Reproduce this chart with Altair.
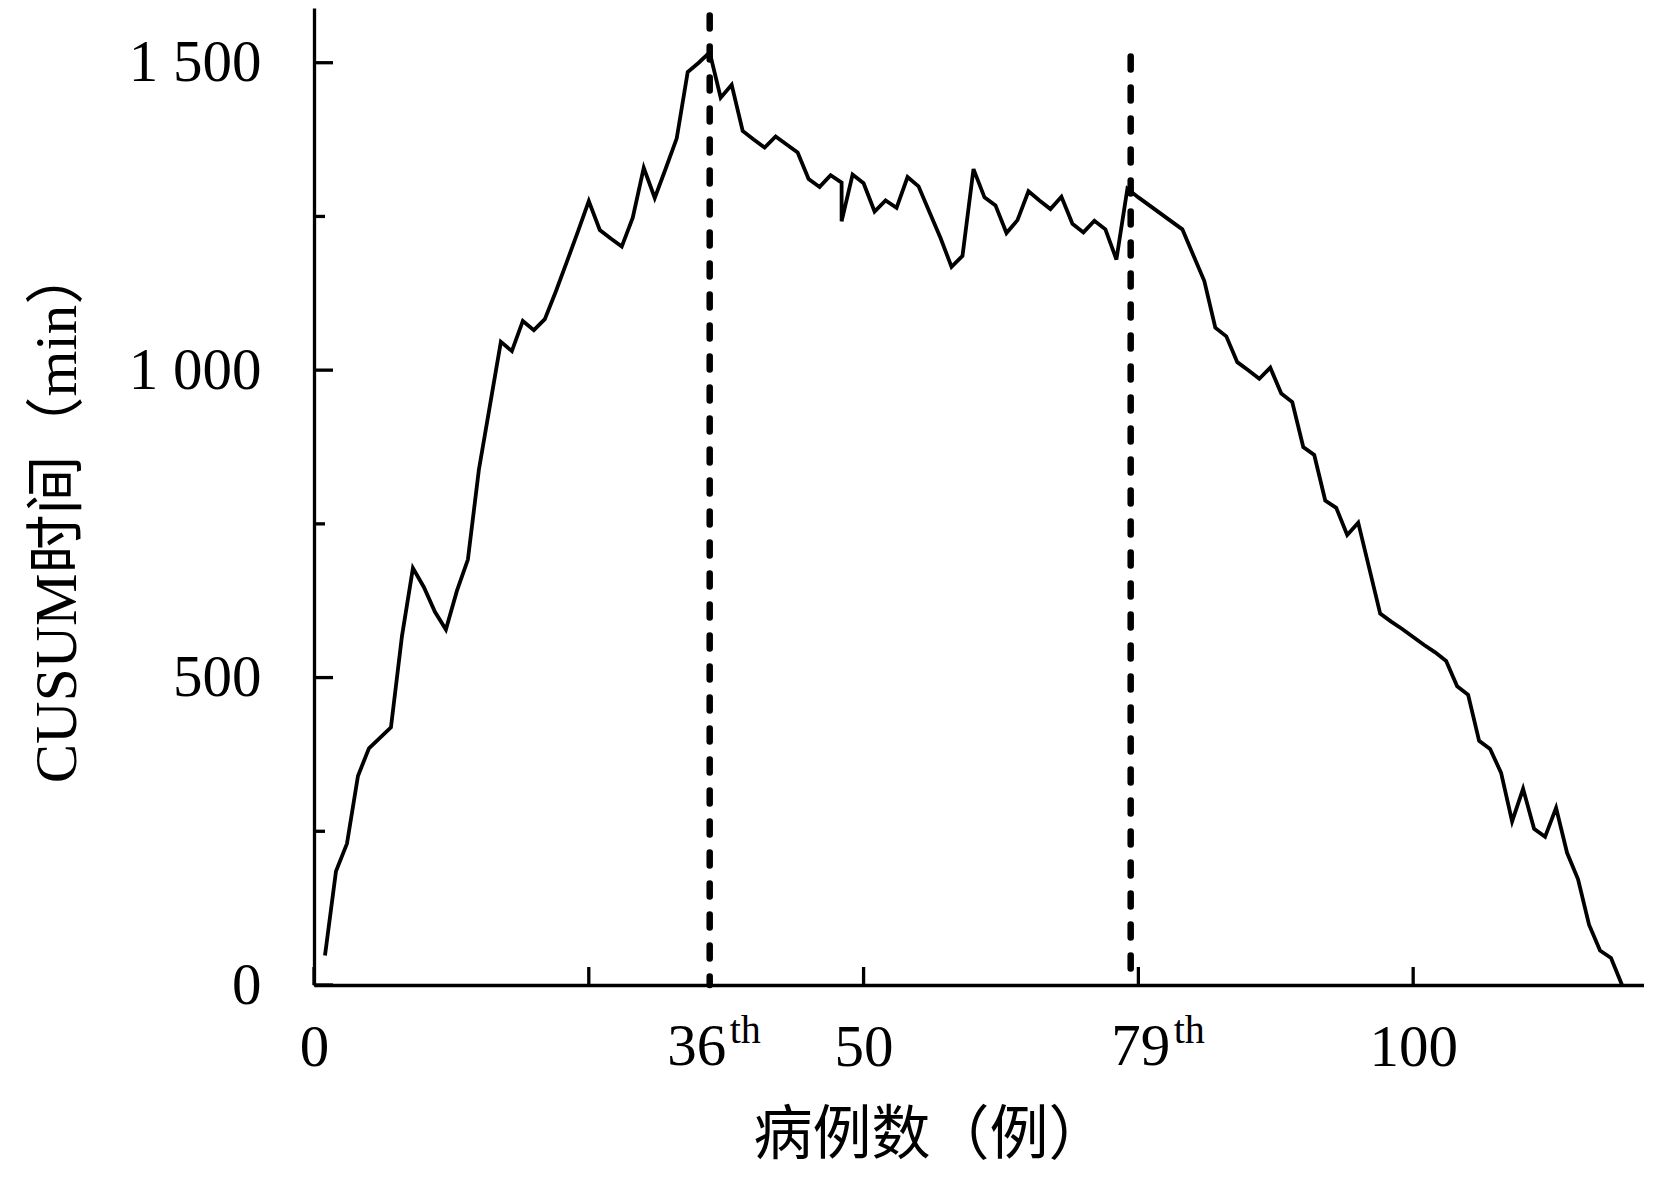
import altair as alt
import pandas as pd

# ---- data ----
case_no = [1, 2, 3, 4, 5, 6, 7, 8, 9, 10,
           11, 12, 13, 14, 15, 16, 17, 18, 19, 20,
           21, 22, 23, 24, 25, 26, 27, 28, 29, 30,
           31, 32, 33, 34, 35, 36, 37, 38, 39, 40,
           41, 42, 43, 44, 45, 46, 47, 48, 48, 49, 50,
           51, 52, 53, 54, 55, 56, 57, 58, 59, 60,
           61, 62, 63, 64, 65, 66, 67, 68, 69, 70,
           71, 72, 73, 74, 75, 76, 77, 78, 79, 80,
           81, 82, 83, 84, 85, 86, 87, 88, 89, 90,
           91, 92, 93, 94, 95, 96, 97, 98, 99, 100,
           101, 102, 103, 104, 105, 106, 107, 108, 109, 110,
           111, 112, 113, 114, 115, 116, 117, 118, 119]
cusum = [48, 185, 230, 340, 385, 402, 419, 567, 678, 647,
         607, 578, 641, 692, 838, 942, 1046, 1031, 1080, 1065,
         1083, 1128, 1176, 1225, 1275, 1228, 1214, 1201, 1248, 1329,
         1280, 1328, 1377, 1485, 1500, 1517, 1443, 1464, 1389, 1375,
         1362, 1380, 1367, 1354, 1311, 1298, 1317, 1305, 1242, 1318, 1304,
         1258, 1276, 1264, 1314, 1299, 1257, 1215, 1168, 1186, 1327,
         1281, 1268, 1223, 1244, 1291, 1276, 1262, 1282, 1238, 1224,
         1243, 1229, 1180, 1295, 1281, 1268, 1255, 1242, 1229, 1187,
         1145, 1069, 1055, 1013, 1000, 986, 1004, 962, 948, 875,
         862, 788, 776, 732, 752, 678, 604, 591, 579, 566,
         553, 541, 527, 486, 472, 397, 384, 345, 266, 319,
         254, 241, 288, 215, 172, 98, 56, 44, 0]

change_x = [36, 74.3]
change_top = [1577, 1510]
change_label = ["36", "79"]
change_sup = ["th", "th"]

x_tick_values = [0, 25, 50, 75, 100]
x_label_values = [0, 50, 100]
y_major = [0, 500, 1000, 1500]
y_minor = [250, 750, 1250]

x_title = "病例数（例）"
y_title = "CUSUM时间（min）"

# ---- layout / style ----
W, H = 1330, 977
X_MAX, Y_MAX = 121.0, 1589
FONT = "Liberation Serif, Noto Sans CJK SC"
FS = 59

df = pd.DataFrame({"case": case_no, "cusum": cusum, "order": list(range(len(case_no)))})
df_change = pd.DataFrame({"x": change_x, "y0": [0, 0], "y1": change_top,
                          "label": change_label, "sup": change_sup})

xs = alt.Scale(domain=[0, X_MAX], nice=False, zero=False)
ys = alt.Scale(domain=[0, Y_MAX], nice=False)

x_axis = alt.Axis(values=x_label_values, ticks=False, grid=False,
                  domainWidth=3.3, domainColor="black",
                  labelFont=FONT, labelFontSize=FS, labelColor="black",
                  labelPadding=33, labelFlush=False, labelOverlap=False,
                  titleFont=FONT, titleFontSize=FS, titleFontWeight="normal",
                  titleColor="black", titleX=616, titleY=150,
                  titleBaseline="middle", titleAlign="center")
y_axis = alt.Axis(values=y_major, ticks=False, grid=False,
                  domainWidth=3.3, domainColor="black",
                  labelFont=FONT, labelFontSize=FS, labelColor="black",
                  labelPadding=53, labelFlush=False, labelOverlap=False,
                  labelExpr="replace(format(datum.value, ','), ',', ' ')",
                  titleFont=FONT, titleFontSize=FS, titleFontWeight="normal",
                  titleColor="black", titleX=-257, titleY=506, titleAngle=270,
                  titleBaseline="middle", titleAlign="center")


def X(field):
    return alt.X(field, type="quantitative", scale=xs, axis=x_axis, title=x_title)


def Y(field):
    return alt.Y(field, type="quantitative", scale=ys, axis=y_axis, title=y_title)


line = alt.Chart(df).mark_line(color="black", strokeWidth=3.8, strokeJoin="miter").encode(
    x=X("case"), y=Y("cusum"), order="order:Q",
)

dashes = alt.Chart(df_change).mark_rule(color="black", strokeWidth=6.5,
                                         strokeDash=[13, 18], strokeCap="round").encode(
    x=X("x"), y=Y("y1"), y2="y0:Q",
)

ytick_major = alt.Chart(pd.DataFrame({"v": y_major})).mark_rule(color="black", strokeWidth=3.3).encode(
    y=Y("v"), x=alt.value(0), x2=alt.value(19))
ytick_minor = alt.Chart(pd.DataFrame({"v": y_minor})).mark_rule(color="black", strokeWidth=3.3).encode(
    y=Y("v"), x=alt.value(0), x2=alt.value(11))
xtick = alt.Chart(pd.DataFrame({"v": x_tick_values})).mark_rule(color="black", strokeWidth=3.3).encode(
    x=X("v"), y=alt.value(H), y2=alt.value(H - 18))

label_dx = [-13, 10]
sup_dx = [20, 43]
label_layers = []
for i in range(len(change_x)):
    sub = df_change.iloc[[i]]
    label_layers.append(
        alt.Chart(sub).mark_text(font=FONT, fontSize=FS, baseline="top", align="center",
                                 color="black", dx=label_dx[i]).encode(
            x=X("x"), y=alt.value(H + 33), text="label:N"))
    label_layers.append(
        alt.Chart(sub).mark_text(font=FONT, fontSize=40, baseline="top", align="left",
                                 color="black", dx=sup_dx[i]).encode(
            x=X("x"), y=alt.value(H + 26), text="sup:N"))

chart = alt.layer(line, dashes, ytick_major, ytick_minor, xtick, *label_layers).properties(
    width=W, height=H,
    autosize=alt.AutoSizeParams(type="none"),
    padding={"left": 306, "top": 0, "right": 0, "bottom": 188},
    background="white",
).configure_view(stroke=None)

chart.save("out.html", embed_options={"renderer": "svg", "actions": False})
